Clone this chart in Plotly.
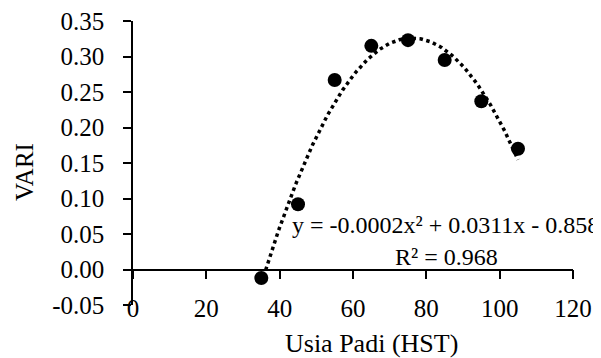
import numpy as np
import plotly.graph_objects as go

# Data
usia_padi = [35, 45, 55, 65, 75, 85, 95, 105]
vari = [-0.012, 0.092, 0.267, 0.315, 0.323, 0.295, 0.237, 0.170]

x_ticks = [0, 20, 40, 60, 80, 100, 120]
y_ticks = [-0.05, 0.00, 0.05, 0.10, 0.15, 0.20, 0.25, 0.30, 0.35]
y_tick_labels = ["-0.05", "0.00", "0.05", "0.10", "0.15", "0.20", "0.25", "0.30", "0.35"]

eq_text = "y = -0.0002x² + 0.0311x - 0.858"
r2_text = "R² = 0.968"

# polynomial (order 2) trendline fitted to the data, over the data range
coef = np.polyfit(usia_padi, vari, 2)
xt = np.linspace(min(usia_padi), max(usia_padi), 200)
yt = np.polyval(coef, xt)

FONT = "Liberation Serif"

fig = go.Figure()
fig.add_trace(go.Scatter(x=xt, y=yt, mode="lines", xaxis="x2", yaxis="y",
                         line=dict(color="black", width=3.5, dash="3.5px,3.5px"),
                         hoverinfo="skip", showlegend=False))
fig.add_trace(go.Scatter(x=usia_padi, y=vari, mode="markers",
                         marker=dict(color="black", size=14),
                         showlegend=False))

# the page body has an 8px default margin, so the figure is 8px smaller
fig.update_layout(
    width=593, height=350,
    margin=dict(l=125, r=28, t=13, b=53, autoexpand=False),
    paper_bgcolor="white", plot_bgcolor="white",
    font=dict(family=FONT, size=24, color="black"),
    xaxis=dict(range=[0, 120], tickvals=x_ticks, ticktext=[str(v) for v in x_ticks],
               showline=False, showgrid=False, zeroline=False, ticks="",
               anchor="free", position=0.049, automargin=False,
               ticklabeloverflow="allow",
               tickfont=dict(family=FONT, size=25, color="black")),
    xaxis2=dict(range=[0, 120], tickvals=x_ticks, overlaying="x",
                anchor="free", position=0.125, side="bottom", automargin=False,
                showline=True, linecolor="black", linewidth=1.5,
                ticks="outside", ticklen=9, tickwidth=1.5, tickcolor="black",
                showticklabels=False, showgrid=False, zeroline=False),
    yaxis=dict(range=[-0.05, 0.35], tickvals=y_ticks, ticktext=y_tick_labels,
               showline=True, linecolor="black", linewidth=1.5, automargin=False,
               ticks="outside", ticklen=8, tickwidth=1.5, tickcolor="black",
               ticklabelstandoff=14, ticklabeloverflow="allow",
               showgrid=False, zeroline=False,
               tickfont=dict(family=FONT, size=25, color="black")),
    annotations=[
        dict(text="VARI", xref="paper", yref="paper", x=-0.248, y=0.468,
             textangle=-90, showarrow=False, xanchor="center", yanchor="middle",
             font=dict(family=FONT, size=25, color="black")),
        dict(text="Usia Padi (HST)", xref="paper", yref="paper", x=0.543, y=-0.134,
             showarrow=False, xanchor="center", yanchor="middle",
             font=dict(family=FONT, size=26, color="black")),
        dict(text=eq_text, xref="x", yref="y", x=85.1, y=0.0627,
             showarrow=False, xanchor="center", yanchor="middle",
             font=dict(family=FONT, size=24, color="black")),
        dict(text=r2_text, xref="x", yref="y", x=85.4, y=0.0176,
             showarrow=False, xanchor="center", yanchor="middle",
             font=dict(family=FONT, size=24, color="black")),
    ],
)

fig.write_html("out.html")
